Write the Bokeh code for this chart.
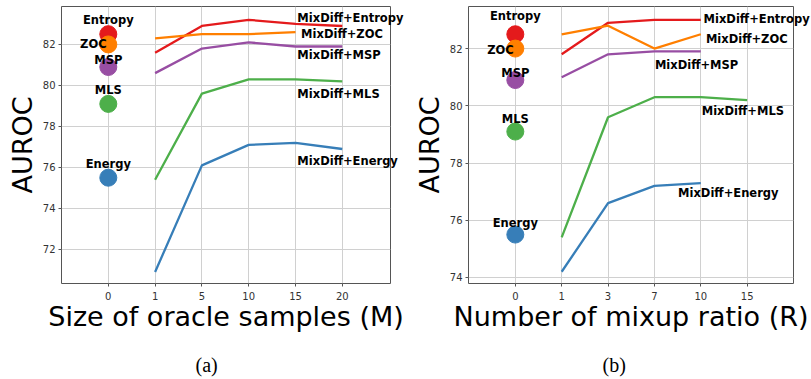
from bokeh.plotting import figure
from bokeh.models import FixedTicker, Title, Range1d
from bokeh.core.properties import value
from bokeh.layouts import row
from bokeh.embed import file_html
from bokeh.resources import INLINE

# ---------------- data ----------------
methods = ["Entropy", "ZOC", "MSP", "MLS", "Energy"]
colors = ["#e41a1c", "#ff7f00", "#984ea3", "#4daf4a", "#377eb8"]
baseline_auroc = [82.5, 82.0, 80.9, 79.1, 75.5]   # value at tick "0"

# (a) size of oracle samples M
m_ticks = ["0", "1", "5", "10", "15", "20"]
a_entropy = [81.6, 82.9, 83.2, 83.0, 82.9]
a_zoc = [82.3, 82.5, 82.5, 82.6]
a_msp = [80.6, 81.8, 82.1, 81.9, 81.9]
a_mls = [75.4, 79.6, 80.3, 80.3, 80.2]
a_energy = [70.9, 76.1, 77.1, 77.2, 76.9]

# (b) number of mixup ratio R
r_ticks = ["0", "1", "3", "7", "10", "15"]
b_entropy = [81.8, 82.9, 83.0, 83.0]
b_zoc = [82.5, 82.8, 82.0, 82.5]
b_msp = [81.0, 81.8, 81.9, 81.9]
b_mls = [75.4, 79.6, 80.3, 80.3, 80.2]
b_energy = [74.2, 76.6, 77.2, 77.3]

# label anchor positions (data coords)
a_line_lab_x = [4.04, 4.12, 4.04, 4.04, 4.04]
a_line_lab_y = [83.3, 82.5, 81.5, 79.6, 76.3]
a_pt_lab_x = [0, -0.32, 0, 0, 0]
a_pt_lab_y = [83.17, 82.0, 81.22, 79.8, 76.18]

b_line_lab_x = [4.06, 4.11, 3.01, 4.02, 3.51]
b_line_lab_y = [83.04, 82.33, 81.44, 79.83, 76.94]
b_pt_lab_x = [0, -0.32, 0, 0, 0]
b_pt_lab_y = [83.14, 81.95, 81.15, 79.54, 75.9]

FONT = "DejaVu Sans"


def make_panel(series, ticks, yticks, xr, yr, fw, bl, br, xlabel, caption,
               line_lab_x, line_lab_y, pt_lab_x, pt_lab_y):
    p = figure(frame_width=fw, frame_height=277, output_backend="svg", toolbar_location=None,
               x_range=Range1d(*xr), y_range=Range1d(*yr),
               min_border_left=bl, min_border_right=br, min_border_top=6,
               min_border_bottom=96)
    p.background_fill_color = "white"
    p.border_fill_color = "white"
    p.outline_line_color = "#555555"
    p.outline_line_width = 1

    p.xaxis.ticker = FixedTicker(ticks=list(range(len(ticks))))
    p.xaxis.major_label_overrides = {i: t for i, t in enumerate(ticks)}
    p.yaxis.ticker = FixedTicker(ticks=yticks)
    for ax in (p.xaxis[0], p.yaxis[0]):
        ax.axis_line_color = None
        ax.major_tick_line_color = "#555555"
        ax.major_tick_out = 3
        ax.major_tick_in = 0
        ax.minor_tick_line_color = None
        ax.major_label_text_font = FONT
        ax.major_label_text_font_size = "10px"
        ax.major_label_text_color = "#333333"
        ax.axis_label_text_font = FONT
        ax.axis_label_text_font_style = "normal"
        ax.axis_label_text_color = "black"
        ax.axis_label_text_font_size = "27px"
    p.xaxis.major_label_standoff = 5
    p.yaxis.major_label_standoff = 3
    p.xaxis.axis_label = xlabel
    p.yaxis.axis_label = "AUROC"
    p.xaxis.axis_label_standoff = -2
    p.yaxis.axis_label_standoff = 2

    p.grid.grid_line_color = "#d0d0d0"
    p.grid.grid_line_width = 1

    for vals, c in zip(series, colors):
        p.line(list(range(1, len(vals) + 1)), vals, line_color=c, line_width=2.3)
    for v, c in zip(baseline_auroc, colors):
        p.scatter([0], [v], size=17, fill_color=c, line_color=c)

    p.text(x=pt_lab_x, y=pt_lab_y, text=methods, text_align="center",
           text_baseline="middle", text_font=value(FONT), text_font_style="bold",
           text_font_size="11.5px", text_color="black", level="overlay")
    p.text(x=line_lab_x, y=line_lab_y, text=["MixDiff+" + m for m in methods],
           text_align="left", text_baseline="middle", text_font=value(FONT),
           text_font_style="bold", text_font_size="11.5px", text_color="black",
           level="overlay")

    p.add_layout(Title(text=caption, align="left", offset=134, standoff=35,
                       text_font="Liberation Serif",
                       text_font_size="20px", text_font_style="normal",
                       text_color="black"), "below")
    return p


pa = make_panel([a_entropy, a_zoc, a_msp, a_mls, a_energy], m_ticks,
                [72, 74, 76, 78, 80, 82], (-1.0, 6.03), (70.34, 83.85), 329, 61, 20,
                "Size of oracle samples (M)", "(a)",
                a_line_lab_x, a_line_lab_y, a_pt_lab_x, a_pt_lab_y)
pb = make_panel([b_entropy, b_zoc, b_msp, b_mls, b_energy], r_ticks,
                [74, 76, 78, 80, 82], (-1.01, 6.0), (73.79, 83.47), 325, 57, 19,
                "Number of mixup ratio (R)", "(b)",
                b_line_lab_x, b_line_lab_y, b_pt_lab_x, b_pt_lab_y)

layout = row(pa, pb)
open("out.html", "w").write(file_html(layout, INLINE))
